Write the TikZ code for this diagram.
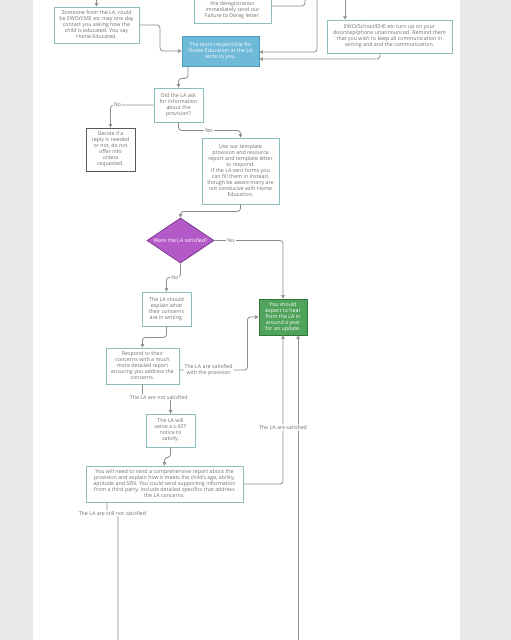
\documentclass[tikz,border=0pt]{standalone}
\usepackage{fontspec}
\newfontfamily\diagfont{Open Sans}
\usetikzlibrary{shapes.geometric,arrows.meta}
\definecolor{bggray}{HTML}{E7E8E7}
\definecolor{tealb}{HTML}{8DBDBD}
\definecolor{txtgray}{HTML}{707070}
\definecolor{lnk}{HTML}{8C8C8C}
\definecolor{bluef}{HTML}{6FB9D9}
\definecolor{blueb}{HTML}{4C9CC2}
\definecolor{purf}{HTML}{B45AC8}
\definecolor{purb}{HTML}{7E3994}
\definecolor{grnf}{HTML}{4FA35B}
\definecolor{grnb}{HTML}{2F7A3B}
\tikzset{
  box/.style={draw=tealb, line width=0.8pt, fill=white, text=txtgray, align=center, inner sep=0pt,
    font=\diagfont\fontsize{5.3}{6}\selectfont},
  darkbox/.style={box, draw=black!65},
  bluebox/.style={box, draw=blueb, fill=bluef, text=white},
  greenbox/.style={box, draw=grnb, fill=grnf, text=white},
  purdiam/.style={diamond, draw=purb, fill=purf, line width=0.8pt, inner sep=0pt},
  purtext/.style={text=white, inner sep=0pt, font=\diagfont\fontsize{5.3}{6}\selectfont},
  conn/.style={draw=lnk, line width=0.8pt, rounded corners=3pt, -{Stealth[length=3.5pt,width=3.6pt,inset=0.5pt]}},
  plain/.style={draw=lnk, line width=0.8pt, rounded corners=3pt},
  lab/.style={fill=white, text=txtgray, inner sep=1pt, align=center, font=\diagfont\fontsize{5.3}{6}\selectfont}
}
\begin{document}
\begin{tikzpicture}[x=1pt,y=-1pt]
\useasboundingbox (0,0) rectangle (511,640);
\fill[bggray] (0,0) rectangle (511,640);
\fill[white] (33,0) rectangle (460,640);

% nodes
\node[box, minimum width=85pt, minimum height=36pt] (A) at (96.5,25) {Someone from the LA, could\\be EWO/CME etc may one day\\contact you asking how the\\child is educated. You say\\Home Educated.};
\node[box, minimum width=77pt, minimum height=34pt] (B) at (232.5,6) {};
\node[text=txtgray, align=center, inner sep=0pt, font=\diagfont\fontsize{5.3}{6}\selectfont, anchor=south] (Bt) at (232.5,19) {the deregistration\\immediately send our\\Failure to Dereg letter.};
\node[box, minimum width=125pt, minimum height=33pt] (C) at (389.5,36.5) {EWO/School/EHE etc turn up on your\\doorstep/phone unannounced. Remind them\\that you wish to keep all communication in\\writing and and the communication.};
\node[bluebox, minimum width=77pt, minimum height=30pt] (T) at (220.5,51) {The team responsible for\\Home Education at the LA\\write to you.};
\node[box, minimum width=49pt, minimum height=34pt] (D) at (178.5,105) {Did the LA ask\\for information\\about the\\provision?};
\node[darkbox, minimum width=49pt, minimum height=43pt] (E) at (110.5,149.5) {Decide if a\\reply is needed\\or not, do not\\offer info\\unless\\requested.};
\node[box, minimum width=77pt, minimum height=66pt] (F) at (240.5,171) {Use our template\\provision and resource\\report and template letter\\to respond.\\If the LA sent forms you\\can fill them in instead,\\though be aware many are\\not conducive with Home\\Education.};
\node[purdiam, minimum width=67pt, minimum height=45pt, label={[purtext]center:Were the LA satisfied?}] (G) at (180.5,240.5) {};
\node[greenbox, minimum width=48pt, minimum height=36pt] (H) at (283,317) {You should\\expect to hear\\from the LA in\\around a year\\for an update.};
\node[box, minimum width=49pt, minimum height=34pt] (I) at (166.5,309) {The LA should\\explain what\\their concerns\\are in writing.};
\node[box, minimum width=73pt, minimum height=36pt] (J) at (142.5,366) {Respond to their\\concerns with a much\\more detailed report\\ensuring you address the\\concerns.};
\node[box, minimum width=49pt, minimum height=33pt] (K) at (170.5,430.5) {The LA will\\serve a s.437\\notice to\\satisfy.};
\node[box, minimum width=157pt, minimum height=36pt] (L) at (164.5,484) {You will need to send a comprehensive report about the\\provision and explain how it meets the child's age, ability,\\aptitude and SEN. You could send supporting information\\from a third party. Include detailed specifics that address\\the LA concerns.};

% free ends
\coordinate (a0) at (96.5,0);
\coordinate (b0) at (305,0);
\coordinate (c0) at (317,0);
\coordinate (c1) at (345,0);
\coordinate (h1) at (298,640);
\coordinate (l1) at (118,640);

% connectors
\draw[conn] (a0) -- (A.north);
\draw[plain] (B.east) -| (b0);
\draw[conn] (c1) -- (c1 |- C.north);
\draw[conn] (A.east) -- (160,25) |- (T.west);
\draw[conn] (c0) |- ([yshift=-1pt]T.east);
\draw[conn] ([xshift=-9.5pt]C.south) |- ([yshift=-8pt]T.east);
\draw[conn] ([xshift=-32.5pt]T.south) -- ++(0,12) -| (D.north);
\draw[conn] (D.west) -| node[lab,pos=0.42]{No} (E.north);
\draw[conn] (D.south) -- ++(0,8) -| node[lab,pos=0.245]{Yes} (F.north);
\draw[conn] (F.south) -- ++(0,7) -| (G.north);
\draw[conn] (G.east) -| node[lab,pos=0.12]{Yes} (H.north);
\draw[conn] (G.south) -- ++(0,14) -| node[lab,pos=0.2]{No} (I.north);
\draw[conn] (I.south) -- ++(0,11) -| (J.north);
\draw[conn] ([yshift=-4pt]J.east) -- node[lab,pos=0.43]{The LA are satisfied\\with the provision} ++(68,0) |- (H.west);
\draw[conn] (J.south) -- ++(0,13) -| node[lab,pos=0.29]{The LA are not satisfied} (K.north);
\draw[conn] (K.south) -- ++(0,10) -| (L.north);
\draw[conn] (h1) -- ([xshift=15pt]H.south);
\draw[conn] (L.east) -| node[lab,pos=0.69]{The LA are satisfied} (H.south);
\draw[plain] ([xshift=-57.5pt]L.south) -- ++(0,11) -| node[lab,pos=0.25]{The LA are still not satisfied} (l1);
\end{tikzpicture}
\end{document}
